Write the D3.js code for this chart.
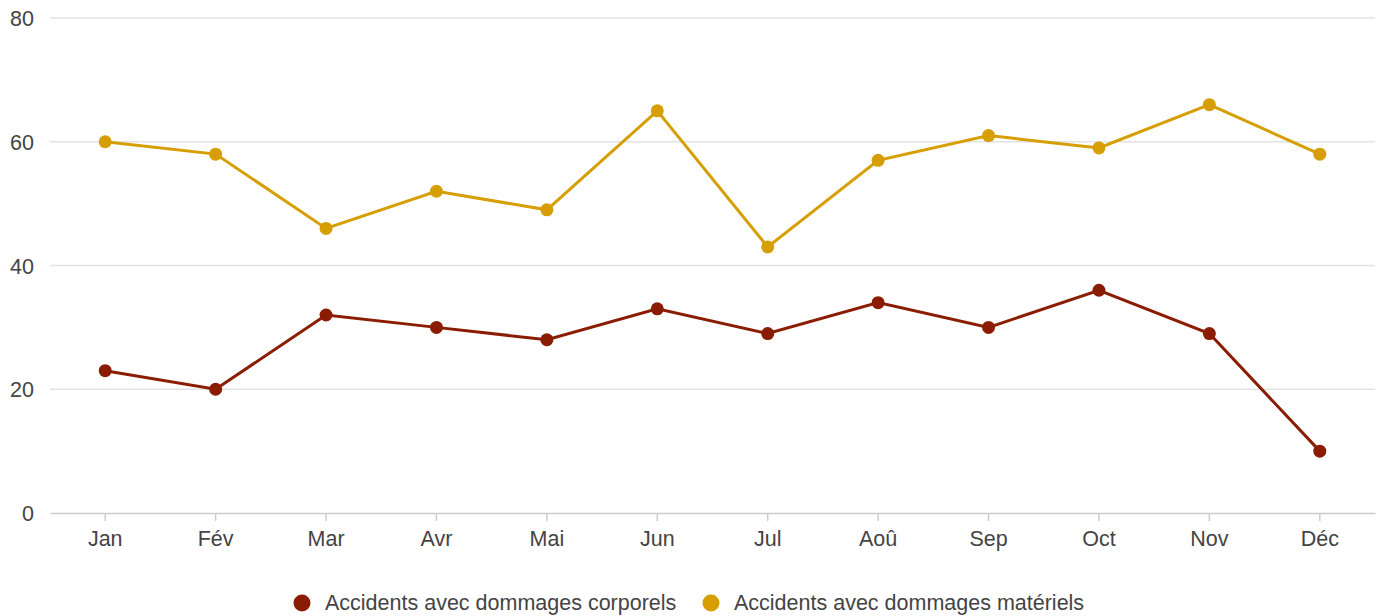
<!DOCTYPE html>
<html><head><meta charset="utf-8">
<script src="https://cdn.jsdelivr.net/npm/d3@7"></script>
<style>body{margin:0;background:#fff;font-family:"Liberation Sans",Arial,sans-serif;}</style>
</head><body><svg id="c" width="1384" height="616"></svg>
<script>
const months = ["Jan","Fév","Mar","Avr","Mai","Jun","Jul","Aoû","Sep","Oct","Nov","Déc"];
const corporels = [23,20,32,30,28,33,29,34,30,36,29,10];
const materiels = [60,58,46,52,49,65,43,57,61,59,66,58];
const yTicks = [0,20,40,60,80];
const seriesNames = ["Accidents avec dommages corporels","Accidents avec dommages matériels"];
const colors = ["#8a1c02","#d69e00"];

const svg = d3.select("#c");
const L=50,R=1375,T=18,B=513;
const FS=21.5;
const x = d3.scaleBand().domain(months).range([L,R]);
const y = d3.scaleLinear().domain([0,80]).range([B,T]);

svg.append("g").selectAll("line").data(yTicks.filter(d=>d>0)).join("line")
  .attr("x1",L).attr("x2",R).attr("y1",d=>y(d)).attr("y2",d=>y(d))
  .attr("stroke","#e3e3e3").attr("stroke-width",1.5);
svg.append("g").selectAll("text").data(yTicks).join("text")
  .attr("x",34).attr("y",d=>y(d)+8).attr("text-anchor","end")
  .attr("font-size",FS).attr("fill","#444").text(d=>d);

const xa = svg.append("g").attr("transform",`translate(0,${B})`)
  .call(d3.axisBottom(x).tickSize(8).tickSizeOuter(0).tickPadding(0));
xa.select(".domain").attr("stroke","#ccc").attr("stroke-width",1.5);
xa.selectAll(".tick line").attr("stroke","#ccc").attr("stroke-width",1.5);
xa.selectAll(".tick text").attr("font-size",FS).attr("fill","#444")
  .attr("font-family","Liberation Sans, Arial, sans-serif").attr("dy",null).attr("y",33);

const cx = d=>x(d)+x.bandwidth()/2;
[corporels,materiels].forEach((vals,i)=>{
  const data = months.map((m,j)=>({m,v:vals[j]}));
  svg.append("path").datum(data)
    .attr("fill","none").attr("stroke",colors[i]).attr("stroke-width",3)
    .attr("d",d3.line().x(d=>cx(d.m)).y(d=>y(d.v)));
  svg.append("g").selectAll("circle").data(data).join("circle")
    .attr("cx",d=>cx(d.m)).attr("cy",d=>y(d.v)).attr("r",6.5).attr("fill",colors[i]);
});

const lg = svg.append("g");
const lx = [302,711];
seriesNames.forEach((n,i)=>{
  lg.append("circle").attr("cx",lx[i]).attr("cy",603).attr("r",8.5).attr("fill",colors[i]);
  lg.append("text").attr("x",lx[i]+23).attr("y",610).attr("font-size",FS).attr("fill","#444").text(n);
});
</script></body></html>
